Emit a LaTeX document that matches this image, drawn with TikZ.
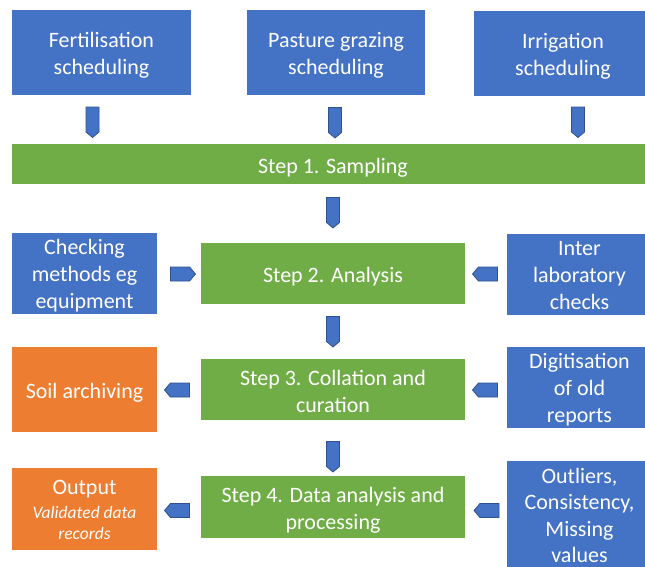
\documentclass[tikz,border=0pt]{standalone}
\usepackage{fontspec}
\setmainfont{Carlito}
\usetikzlibrary{shapes.symbols}
\definecolor{cblue}{HTML}{4472C4}
\definecolor{cgreen}{HTML}{70AD47}
\definecolor{corange}{HTML}{ED7D31}
\definecolor{cedge}{HTML}{2F528F}
\begin{document}
\begin{tikzpicture}[x=1pt,y=-1pt,
  box/.style={rectangle,inner sep=0pt},
  bluebox/.style={box,fill=cblue},
  greenbox/.style={box,fill=cgreen},
  orangebox/.style={box,fill=corange},
  txt/.style={inner sep=0pt,text=white,align=center,
    font=\fontsize{22}{27}\selectfont},
  barrow/.style={signal,draw=cedge,fill=cblue,line width=0.8pt,inner sep=0pt,
    signal pointer angle=100},
  darrow/.style={barrow,signal to=south,signal from=nowhere,minimum width=13pt,minimum height=25pt},
  rarrow/.style={barrow,signal to=east,signal from=nowhere,minimum width=25pt,minimum height=14pt},
  larrow/.style={barrow,signal to=west,signal from=nowhere,minimum width=25pt,minimum height=14pt}]
\useasboundingbox (0,0) rectangle (645,566);
\clip (0,0) rectangle (645,566);
% top row
\node[bluebox,minimum width=179pt,minimum height=85pt] (fert) at (101.5,52.5) {};
\node[txt] (fertT) at ([yshift=-3pt]fert.center) {Fertilisation\\scheduling};
\node[bluebox,minimum width=178pt,minimum height=85pt] (past) at (336,52.5) {};
\node[txt] (pastT) at ([yshift=-3pt]past.center) {Pasture grazing\\scheduling};
\node[bluebox,minimum width=178pt,minimum height=85pt] (irr) at (563,53.5) {};
\node[txt] (irrT) at ([yshift=-3pt]irr.center) {Irrigation\\scheduling};
\node[greenbox,minimum width=642pt,minimum height=40pt] (step1) at (333,164) {};
\node[txt] (step1T) at ([yshift=-4pt]step1.center) {Step 1. Sampling};
% row 2
\node[bluebox,minimum width=145pt,minimum height=81pt] (check) at (84.5,273.5) {};
\node[txt] (checkT) at ([yshift=-2pt]check.center) {Checking\\methods eg\\equipment};
\node[greenbox,minimum width=264pt,minimum height=61pt] (step2) at (333,273.5) {};
\node[txt] (step2T) at ([yshift=-3pt]step2.center) {Step 2. Analysis};
\node[bluebox,minimum width=145pt,minimum height=81pt] (inter) at (579.5,274.5) {};
\node[txt] (interT) at ([yshift=-1.5pt]inter.center) {Inter\\laboratory\\checks};
% row 3
\node[orangebox,minimum width=145pt,minimum height=85pt] (soil) at (84.5,389.5) {};
\node[txt] (soilT) at ([yshift=-3pt]soil.center) {Soil archiving};
\node[greenbox,minimum width=264pt,minimum height=61pt] (step3) at (333,389.5) {};
\node[txt] (step3T) at ([yshift=-1.5pt]step3.center) {Step 3. Collation and\\curation};
\node[bluebox,minimum width=145pt,minimum height=81pt] (digi) at (579.5,387.5) {};
\node[txt] (digiT) at ([yshift=-2.5pt]digi.center) {Digitisation\\of old\\reports};
% row 4
\node[orangebox,minimum width=145pt,minimum height=82pt] (out) at (84.5,509) {};
\node[txt] (outT) at ([yshift=-1pt]out.center) {Output\\[-3pt]\fontsize{17.5}{20}\selectfont\itshape Validated data\\[-6pt]\fontsize{17.5}{20}\selectfont\itshape records};
\node[greenbox,minimum width=264pt,minimum height=62pt] (step4) at (333,507) {};
\node[txt] (step4T) at ([yshift=-3pt]step4.center) {Step 4. Data analysis and\\processing};
\node[bluebox,minimum width=145pt,minimum height=112pt] (outl) at (579.5,517) {};
\node[txt] (outlT) at ([yshift=1.5pt]outl.center) {Outliers,\\[-0.7pt]Consistency,\\[-0.7pt]Missing\\[-0.7pt]values};
% arrows
\node[darrow] (a1) at (92.5,119.5) {};
\node[darrow] (a2) at (335,120) {};
\node[darrow] (a3) at (578,119.5) {};
\node[darrow] (a4) at (333,210) {};
\node[darrow] (a5) at (333,329) {};
\node[darrow] (a6) at (333,454) {};
\node[rarrow] (a7) at (180,274) {};
\node[larrow] (a8) at (488,274) {};
\node[larrow] (a9) at (180,390) {};
\node[larrow] (a10) at (488,390) {};
\node[larrow] (a11) at (180,510.5) {};
\node[larrow] (a12) at (489.5,510.5) {};
\end{tikzpicture}
\end{document}
